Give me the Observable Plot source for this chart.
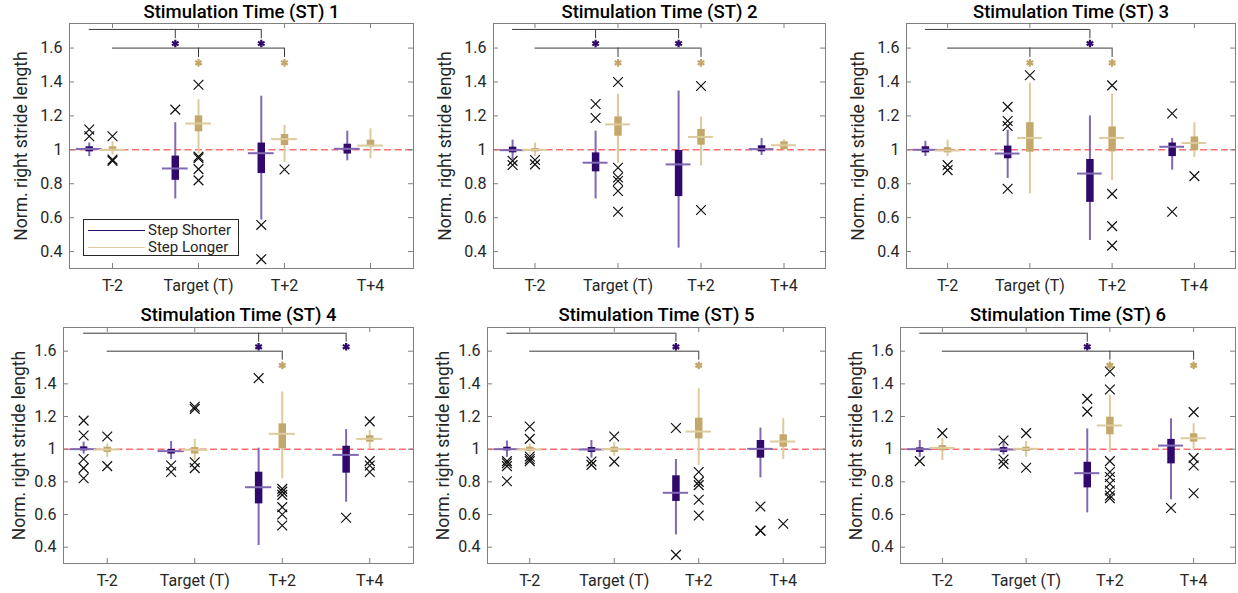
<!DOCTYPE html>
<html><head><meta charset="utf-8">
<script src="https://cdn.jsdelivr.net/npm/d3@7"></script>
<script src="https://cdn.jsdelivr.net/npm/@observablehq/plot@0.6"></script>
<style>
body{margin:0;background:#fff;}
#wrap{position:relative;width:1238px;height:593px;overflow:hidden;font-family:Roboto,sans-serif;background:#fff;}
.panel{position:absolute;}
.legend{position:absolute;box-sizing:border-box;border:1px solid #262626;background:#fff;font-family:Roboto,sans-serif;font-size:15px;color:#262626;}
.legend .row{position:absolute;left:0;height:17px;line-height:17px;}
.legend .sw{position:absolute;left:4px;width:57px;height:0;border-top:1.5px solid;top:8px;}
.legend .lab{position:absolute;left:64px;top:0;white-space:nowrap;}
</style></head><body><div id="wrap"></div>
<script>
const categories = ["T-2", "Target (T)", "T+2", "T+4"];
const panelTitles = ["Stimulation Time (ST) 1","Stimulation Time (ST) 2","Stimulation Time (ST) 3","Stimulation Time (ST) 4","Stimulation Time (ST) 5","Stimulation Time (ST) 6"];
const yTicks = [0.4, 0.6, 0.8, 1, 1.2, 1.4, 1.6];
const yTickLabels = ["0.4", "0.6", "0.8", "1", "1.2", "1.4", "1.6"];
const yLabel = "Norm. right stride length";
const seriesNames = ["Step Shorter", "Step Longer"];

// [whiskerLow, q1, median, q3, whiskerHigh] per panel, per category
const shorterStats = [
  [[0.96,0.988,1.005,1.018,1.04],[0.71,0.82,0.89,0.963,1.16],[0.586,0.86,0.98,1.04,1.316],[0.935,0.975,1.006,1.033,1.11]],
  [[0.94,0.982,0.998,1.016,1.057],[0.71,0.87,0.924,0.982,1.11],[0.42,0.724,0.914,0.996,1.347],[0.967,0.988,1.004,1.024,1.067]],
  [[0.96,0.982,1.0,1.018,1.05],[0.831,0.947,0.978,1.022,1.116],[0.465,0.69,0.86,0.943,1.2],[0.88,0.96,1.018,1.04,1.067]],
  [[0.97,0.99,1.0,1.014,1.043],[0.937,0.97,0.988,0.998,1.047],[0.41,0.665,0.767,0.859,1.006],[0.675,0.853,0.965,1.018,1.12]],
  [[0.95,0.99,1.0,1.012,1.05],[0.945,0.98,0.998,1.01,1.053],[0.475,0.68,0.733,0.837,0.937],[0.824,0.945,1.002,1.053,1.129]],
  [[0.95,0.98,1.0,1.008,1.053],[0.965,0.98,0.998,1.01,1.043],[0.61,0.763,0.853,0.92,1.124],[0.69,0.91,1.022,1.06,1.186]]
];
const longerStats = [
  [[0.97,0.99,1.0,1.018,1.047],[0.975,1.106,1.155,1.2,1.296],[0.925,1.025,1.063,1.09,1.145],[0.947,1.018,1.025,1.057,1.124]],
  [[0.96,0.988,1.0,1.008,1.04],[0.92,1.08,1.15,1.194,1.327],[0.904,1.027,1.076,1.12,1.194],[0.998,1.002,1.027,1.047,1.06]],
  [[0.96,0.982,0.996,1.012,1.057],[0.74,0.986,1.07,1.16,1.394],[0.818,0.988,1.07,1.135,1.33],[0.955,0.996,1.04,1.076,1.16]],
  [[0.95,0.98,0.998,1.012,1.033],[0.93,0.97,0.996,1.01,1.06],[0.818,1.002,1.094,1.155,1.35],[1.0,1.043,1.063,1.082,1.114]],
  [[0.965,0.986,0.998,1.012,1.033],[0.957,0.98,1.0,1.012,1.04],[0.9,1.063,1.108,1.19,1.37],[0.937,1.012,1.047,1.088,1.186]],
  [[0.93,0.99,1.008,1.022,1.067],[0.95,0.986,1.002,1.012,1.047],[0.98,1.088,1.145,1.196,1.33],[1.0,1.043,1.067,1.094,1.155]]
];
const shorterOutliers = [
  [[1.12,1.08],[1.237],[0.557,0.355],[]],
  [[0.935,0.91],[1.27,1.188],[],[]],
  [[],[1.253,1.17,1.14,0.77],[],[1.214,0.635]],
  [[1.175,1.084,0.94,0.884,0.822],[0.9,0.86],[1.435],[0.58]],
  [[0.927,0.914,0.896,0.804],[0.925,0.904],[1.13,0.353],[0.649,0.502,0.5]],
  [[0.927],[1.053,0.937,0.91],[1.308,1.23],[0.64]]
];
const longerOutliers = [
  [[1.08,0.943,0.935],[1.384,0.96,0.95,0.886,0.82],[0.884],[]],
  [[0.94,0.914],[1.4,0.894,0.837,0.816,0.757,0.635],[1.376,0.645],[]],
  [[0.91,0.88],[1.44],[1.38,0.74,0.55,0.435],[0.845]],
  [[1.078,0.896],[1.26,1.247,0.92,0.884],[0.757,0.74,0.72,0.645,0.6,0.533],[1.17,0.927,0.9,0.86]],
  [[1.139,1.063,0.955,0.94,0.927],[1.078,0.924],[0.86,0.8,0.78,0.69,0.594],[0.543]],
  [[1.098],[1.098,0.886],[1.476,1.365,0.927,0.86,0.83,0.788,0.747,0.716,0.7],[1.227,0.947,0.9,0.73]]
];
// significant categories (1-based) vs T-2
const shorterSig = [[2,3],[2,3],[3],[3,4],[3],[3]];
const longerSig = [[2,3],[2,3],[2,3],[3],[3],[3,4]];

const colors = {shortDark:"#2f0a6c", shortLight:"#8068b3", longDark:"#c4a86b", longLight:"#dccb9c"};
const ink = "#262626", frameColor = "#808080";

const colGeom = [{left:0,width:415,ml:[69,63],mr:2},{left:415,width:413,ml:[78,72],mr:3},{left:828,width:410,ml:[78,72],mr:3}];
const rowGeom = [{top:0,height:296,mt:23,mb:28,labDx:-48,titleDy:-11},{top:296,height:297,mt:31,mb:30,labDx:-44,titleDy:-12}];

const wrap = document.getElementById("wrap");
const OFF = -0.27; // dodge of Step Shorter boxes
const HALF = 0.15; // half width of median line in x units

function drawPanel(i){
  const col = colGeom[i%3], row = rowGeom[Math.floor(i/3)], r = Math.floor(i/3);
  const W = col.width, H = row.height, ml = col.ml[r], mr = col.mr, mt = row.mt, mb = row.mb;
  const pw = W - ml - mr, ph = H - mt - mb;
  const boxes = [], outs = [];
  const series = [
    {stats: shorterStats[i], outl: shorterOutliers[i], off: OFF, dark: colors.shortDark, light: colors.shortLight},
    {stats: longerStats[i], outl: longerOutliers[i], off: 0, dark: colors.longDark, light: colors.longLight}
  ];
  series.forEach(s => categories.forEach((c, k) => {
    const [lo, q1, med, q3, hi] = s.stats[k];
    const x = k + 1 + s.off;
    boxes.push({x, lo, q1, med, q3, hi, dark: s.dark, light: s.light});
    s.outl[k].forEach(v => outs.push({x, y: v}));
  }));
  const sigS = shorterSig[i], sigL = longerSig[i];
  const brackets = [];
  if (sigS.length) brackets.push({x1: 1 + OFF, x2: d3.max(sigS) + OFF, y: 1.71});
  if (sigL.length) brackets.push({x1: 1, x2: d3.max(sigL), y: 1.6});
  const ticksDown = [
    ...sigS.map(c => ({x: c + OFF, y1: 1.71, y2: 1.655})),
    ...sigL.map(c => ({x: c, y1: 1.6, y2: 1.545}))
  ];
  const stars = [
    ...sigS.map(c => ({x: c + OFF, y: 1.627, c: colors.shortDark})),
    ...sigL.map(c => ({x: c, y: 1.513, c: colors.longDark}))
  ];
  const svg = Plot.plot({
    width: W, height: H, marginLeft: ml, marginRight: mr, marginTop: mt, marginBottom: mb,
    style: {fontFamily: "Roboto, sans-serif", background: "transparent", overflow: "visible"},
    x: {domain: [0.5, 4.5], axis: null},
    y: {domain: [0.3, 1.745], axis: null},
    marks: [
      Plot.ruleY([1], {stroke: "#ff6f6f", strokeWidth: 1.5, strokeDasharray: "7,3.5"}),
      Plot.ruleX(boxes, {x: "x", y1: "lo", y2: "hi", stroke: d => d.light, strokeWidth: 2}),
      Plot.ruleX(boxes, {x: "x", y1: "q1", y2: "q3", stroke: d => d.dark, strokeWidth: 7.5}),
      Plot.ruleY(boxes, {y: "med", x1: d => d.x - HALF, x2: d => d.x + HALF, stroke: d => d.light, strokeWidth: 2}),
      Plot.dot(outs, {x: "x", y: "y", symbol: "times", r: 4.5, stroke: "#111", strokeWidth: 1.2}),
      Plot.ruleY(brackets, {y: "y", x1: "x1", x2: "x2", stroke: "#3a3a3a", strokeWidth: 1}),
      Plot.ruleX(ticksDown, {x: "x", y1: "y1", y2: "y2", stroke: "#3a3a3a", strokeWidth: 1}),
      Plot.dot(stars, {x: "x", y: "y", symbol: "asterisk", r: 3.6, stroke: d => d.c, strokeWidth: 2.2}),
      Plot.frame({stroke: frameColor, strokeWidth: 1}),
      Plot.tickY(yTicks, {y: d => d, insetRight: pw - 5, stroke: frameColor}),
      Plot.tickY(yTicks, {y: d => d, insetLeft: pw - 5, stroke: frameColor}),
      Plot.tickX(categories, {x: (d, k) => k + 1, insetTop: ph - 5, stroke: frameColor}),
      Plot.tickX(categories, {x: (d, k) => k + 1, insetBottom: ph - 5, stroke: frameColor}),
      Plot.text(yTicks, {y: d => d, text: (d, k) => yTickLabels[k], frameAnchor: "left", textAnchor: "end", dx: -7, fontSize: 16, fill: ink}),
      Plot.text(categories, {x: (d, k) => k + 1, text: d => d, frameAnchor: "bottom", lineAnchor: "middle", dy: 17, fontSize: 16, fill: ink}),
      Plot.text([yLabel], {text: d => d, frameAnchor: "left", textAnchor: "middle", lineAnchor: "middle", rotate: -90, dx: row.labDx, fontSize: 17.5, fill: ink}),
      Plot.text([panelTitles[i]], {text: d => d, frameAnchor: "top", lineAnchor: "middle", dy: row.titleDy, fontSize: 18.5, fontWeight: 500, fill: "#000"})
    ]
  });
  const div = document.createElement("div");
  div.className = "panel";
  div.style.left = col.left + "px";
  div.style.top = row.top + "px";
  div.appendChild(svg);
  wrap.appendChild(div);
}
for (let i = 0; i < 6; i++) drawPanel(i);

// legend inside panel 1
const leg = document.createElement("div");
leg.className = "legend";
Object.assign(leg.style, {left: "83px", top: "219px", width: "156px", height: "37px"});
[[seriesNames[0], colors.shortDark, 2], [seriesNames[1], colors.longLight, 19]].forEach(([name, c, top]) => {
  const rowEl = document.createElement("div");
  rowEl.className = "row";
  rowEl.style.top = top + "px";
  rowEl.style.width = "100%";
  const sw = document.createElement("div"); sw.className = "sw"; sw.style.borderTopColor = c;
  const lab = document.createElement("div"); lab.className = "lab"; lab.textContent = name;
  rowEl.appendChild(sw); rowEl.appendChild(lab);
  leg.appendChild(rowEl);
});
wrap.appendChild(leg);
</script></body></html>
